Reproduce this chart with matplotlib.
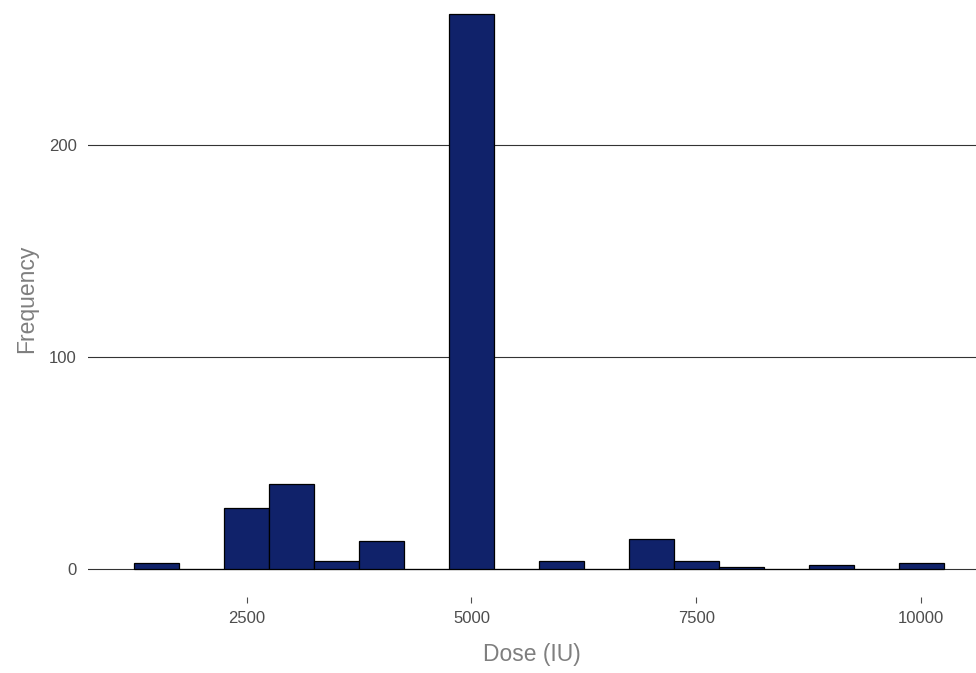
import matplotlib
matplotlib.use("Agg")
import matplotlib.pyplot as plt

plt.rcParams['font.family'] = ['Liberation Sans', 'DejaVu Sans']

dose_bins = [1500, 2000, 2500, 3000, 3500, 4000, 4500, 5000, 5500, 6000,
             6500, 7000, 7500, 8000, 8500, 9000, 9500, 10000]
frequency = [3, 0, 29, 40, 4, 13, 0, 262, 0, 4,
             0, 14, 4, 1, 0, 2, 0, 3]
x_ticks = [2500, 5000, 7500, 10000]
y_ticks = [0, 100, 200]

W, H = 976, 673
fig = plt.figure(figsize=(W / 100, H / 100), dpi=100)
left, right, top, bottom = 88, 976, 0, 597
ax = fig.add_axes([left / W, 1 - bottom / H, (right - left) / W, (bottom - top) / H])

ax.bar(dose_bins, frequency, width=500, color='#10226A', edgecolor='black',
       linewidth=0.9, zorder=3)

ax.set_xlim(735, 10611)
ax.set_ylim(-13.2, 268.4)
ax.set_xticks(x_ticks)
ax.set_yticks(y_ticks)
ax.set_xticklabels([str(v) for v in x_ticks])
ax.set_yticklabels([str(v) for v in y_ticks])

for s in ax.spines.values():
    s.set_visible(False)
ax.grid(axis='y', color='#333333', linewidth=0.8, zorder=0)
ax.grid(axis='x', visible=False)
ax.tick_params(axis='y', length=0, pad=8, labelsize=12, labelcolor='#4D4D4D')
ax.tick_params(axis='x', length=4, width=0.8, color='#4D4D4D', pad=6,
               labelsize=12, labelcolor='#4D4D4D')

ax.set_xlabel('Dose (IU)', fontsize=16.5, color='#7F7F7F', labelpad=12)
ax.set_ylabel('Frequency', fontsize=16.5, color='#7F7F7F', labelpad=8)

fig.savefig('out.png', dpi=100)
